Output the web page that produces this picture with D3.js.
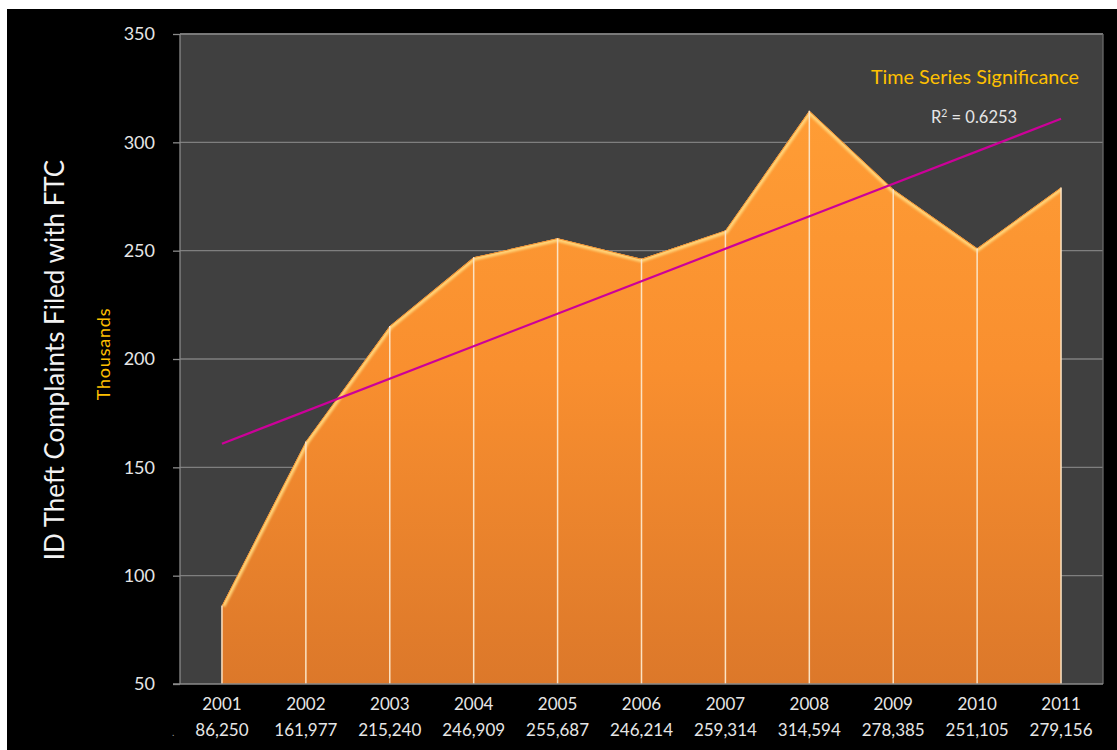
<!DOCTYPE html>
<html><head><meta charset="utf-8">
<script src="https://cdn.jsdelivr.net/npm/d3@7"></script>
<style>html,body{margin:0;padding:0;background:#fff;} svg{display:block;} text{font-family:Lato,"Open Sans",sans-serif;}</style>
</head><body>
<svg id="chart" width="1117" height="750"></svg>
<script>
const years = ["2001","2002","2003","2004","2005","2006","2007","2008","2009","2010","2011"];
const complaints = [86250,161977,215240,246909,255687,246214,259314,314594,278385,251105,279156];
const valueLabels = ["86,250","161,977","215,240","246,909","255,687","246,214","259,314","314,594","278,385","251,105","279,156"];
const yTicks = [50,100,150,200,250,300,350];
const rSquared = "0.6253";

const svg = d3.select("#chart");
const W = 1117, H = 750;
const m = {left:180, right:1103, top:34, bottom:684};

svg.append("rect").attr("x",7).attr("y",9).attr("width",W-7).attr("height",H-9).attr("fill","#000");

const x = d3.scaleBand().domain(years).range([m.left,m.right]).padding(0);
const cx = d => x(d) + x.bandwidth()/2;
const y = d3.scaleLinear().domain([50,350]).range([m.bottom,m.top]);
const data = years.map((yr,i)=>({yr, v: complaints[i]/1000, lbl: valueLabels[i]}));

const defs = svg.append("defs");
const g1 = defs.append("linearGradient").attr("id","fillGrad").attr("gradientUnits","userSpaceOnUse")
  .attr("x1",0).attr("x2",0).attr("y1",y(315)).attr("y2",y(50));
g1.append("stop").attr("offset","0%").attr("stop-color","#FF9D35");
g1.append("stop").attr("offset","45%").attr("stop-color","#F98F2F");
g1.append("stop").attr("offset","100%").attr("stop-color","#DC782A");
defs.append("filter").attr("id","blur").append("feGaussianBlur").attr("stdDeviation",1.3);
defs.append("clipPath").attr("id","areaClip").append("path");

// plot background
svg.append("rect").attr("x",m.left).attr("y",m.top).attr("width",m.right-m.left).attr("height",m.bottom-m.top)
  .attr("fill","#404040");

// gridlines
svg.append("g").selectAll("line").data(yTicks.filter(t=>t>50)).join("line")
  .attr("x1",m.left).attr("x2",m.right).attr("y1",d=>y(d)).attr("y2",d=>y(d))
  .attr("stroke","#7f7f7f").attr("stroke-width",1.3);

// area
const area = d3.area().x(d=>cx(d.yr)).y0(y(50)).y1(d=>y(d.v));
const line = d3.line().x(d=>cx(d.yr)).y(d=>y(d.v));
const areaD = area(data);
defs.select("#areaClip path").attr("d",areaD);
svg.append("path").attr("d",areaD).attr("fill","url(#fillGrad)");
const bevel = svg.append("g").attr("clip-path","url(#areaClip)");
bevel.append("path").attr("d",line(data)).attr("fill","none").attr("stroke","#FFD57A")
  .attr("stroke-width",7).attr("filter","url(#blur)").attr("opacity",0.95);
bevel.append("path").attr("d",line(data)).attr("fill","none").attr("stroke","#F08A2C")
  .attr("stroke-width",1.5);
// side shading
bevel.append("line").attr("x1",cx(years[years.length-1])).attr("x2",cx(years[years.length-1]))
  .attr("y1",y(50)).attr("y2",m.top).attr("stroke","#B8621E").attr("stroke-width",6).attr("filter","url(#blur)").attr("opacity",0.6);
bevel.append("line").attr("x1",m.left).attr("x2",m.right).attr("y1",y(50)).attr("y2",y(50))
  .attr("stroke","#B8621E").attr("stroke-width",5).attr("filter","url(#blur)").attr("opacity",0.5);

// drop lines
svg.append("g").selectAll("line").data(data).join("line")
  .attr("x1",d=>cx(d.yr)).attr("x2",d=>cx(d.yr)).attr("y1",d=>y(d.v)).attr("y2",y(50))
  .attr("stroke","#FBE3C4").attr("stroke-width",1.5);

// trend line (least squares)
const n = data.length, xs = d3.range(1,n+1), vs = data.map(d=>d.v);
const mx = d3.mean(xs), my = d3.mean(vs);
const slope = d3.sum(xs.map((xi,i)=>(xi-mx)*(vs[i]-my))) / d3.sum(xs.map(xi=>(xi-mx)*(xi-mx)));
const icpt = my - slope*mx;
svg.append("line").attr("x1",cx(years[0])).attr("x2",cx(years[n-1]))
  .attr("y1",y(icpt+slope*1)).attr("y2",y(icpt+slope*n))
  .attr("stroke","#CC0099").attr("stroke-width",2.2);

// borders / axes
svg.append("line").attr("x1",m.left).attr("x2",m.right).attr("y1",m.top).attr("y2",m.top).attr("stroke","#7f7f7f").attr("stroke-width",1.3);
svg.append("line").attr("x1",m.right).attr("x2",m.right).attr("y1",m.top).attr("y2",m.bottom).attr("stroke","#6a6a6a").attr("stroke-width",1.3);
svg.append("line").attr("x1",m.left).attr("x2",m.left).attr("y1",m.top).attr("y2",m.bottom).attr("stroke","#8a8a8a").attr("stroke-width",1.3);

const yAxis = d3.axisLeft(y).tickValues(yTicks).tickSize(7).tickPadding(18).tickFormat(d3.format("d"));
const ya = svg.append("g").attr("transform",`translate(${m.left},0)`).call(yAxis);
ya.select(".domain").remove();
ya.selectAll(".tick line").attr("stroke","#8a8a8a").attr("stroke-width",1.3);
ya.selectAll(".tick text").attr("fill","#E6E6E6").attr("font-size",18).attr("font-family","Lato");

const xAxis = d3.axisBottom(x).tickSize(0).tickPadding(14);
const xa = svg.append("g").attr("transform",`translate(0,${m.bottom})`).call(xAxis);
xa.select(".domain").attr("stroke","#8a8a8a").attr("stroke-width",1.3).attr("d",`M${m.left-7},0H${m.right}`);
xa.selectAll(".tick text").attr("fill","#E6E6E6").attr("font-size",17).attr("font-family","Lato");

svg.append("g").selectAll("text").data(data).join("text")
  .attr("x",d=>cx(d.yr)).attr("y",736).attr("text-anchor","middle")
  .attr("fill","#E6E6E6").attr("font-size",17).text(d=>d.lbl);
svg.append("text").attr("x",172).attr("y",736).attr("fill","#999").attr("font-size",10).text(".");

// titles
svg.append("text").attr("transform","translate(64,360) rotate(-90)").attr("text-anchor","middle")
  .attr("fill","#F2F2F2").attr("font-size",26).text("ID Theft Complaints Filed with FTC");
svg.append("text").attr("transform","translate(110,354) rotate(-90)").attr("text-anchor","middle")
  .attr("fill","#FFC000").attr("font-size",18).attr("letter-spacing",0.8).text("Thousands");

svg.append("text").attr("x",975).attr("y",84).attr("text-anchor","middle")
  .attr("fill","#FFC000").attr("font-size",19.8).text("Time Series Significance");
const rt = svg.append("text").attr("x",974).attr("y",123).attr("text-anchor","middle")
  .attr("fill","#E6E6E6").attr("font-size",16.5);
rt.append("tspan").text("R");
rt.append("tspan").attr("font-size",10.5).attr("dy",-6).text("2");
rt.append("tspan").attr("dy",6).text(" = " + rSquared);
</script>
</body></html>
